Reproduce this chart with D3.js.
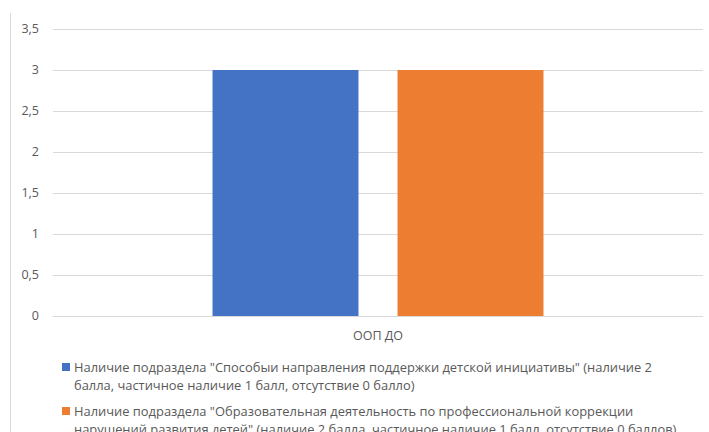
<!DOCTYPE html>
<html>
<head>
<meta charset="utf-8">
<script src="https://cdn.jsdelivr.net/npm/d3@7"></script>
<style>
  body { margin: 0; background: #fff; }
  text { font-family: "Open Sans", "Noto Sans", sans-serif; fill: #595959; }
</style>
</head>
<body>
<svg id="chart" width="709" height="432"></svg>
<script>
// data
var categories = ["ООП ДО"];
var seriesNames = [
  ["Наличие подраздела \"Способыи направления поддержки детской инициативы\" (наличие 2",
   "балла, частичное наличие 1 балл, отсутствие 0 балло)"],
  ["Наличие подраздела \"Образовательная деятельность по профессиональной коррекции",
   "нарушений развития детей\" (наличие 2 балла, частичное наличие 1 балл, отсутствие 0 баллов)"]
];
var seriesValues = [[3], [3]];
var seriesColors = ["#4472c4", "#ed7d31"];
var yTicks = [0, 0.5, 1, 1.5, 2, 2.5, 3, 3.5];

var svg = d3.select("#chart");

// left border of the chart frame
svg.append("line")
  .attr("x1", 10.5).attr("x2", 10.5)
  .attr("y1", 13).attr("y2", 432)
  .attr("stroke", "#d9d9d9").attr("stroke-width", 1);

var plotLeft = 53, plotRight = 703, plotTop = 29, plotBottom = 316;

var y = d3.scaleLinear().domain([0, 3.5]).range([plotBottom, plotTop]);
var x0 = d3.scaleBand().domain(categories).range([plotLeft, plotRight]).paddingInner(0).paddingOuter(0.482);
var x1 = d3.scaleBand().domain(d3.range(seriesValues.length)).range([0, x0.bandwidth()]).paddingInner(0.211);

// gridlines
svg.append("g").selectAll("line").data(yTicks).enter().append("line")
  .attr("x1", plotLeft).attr("x2", plotRight)
  .attr("y1", function(d) { return Math.round(y(d)) + 0.5; })
  .attr("y2", function(d) { return Math.round(y(d)) + 0.5; })
  .attr("stroke", "#d9d9d9").attr("stroke-width", 1);

// y labels
svg.append("g").selectAll("text").data(yTicks).enter().append("text")
  .attr("x", 39).attr("y", function(d) { return y(d); })
  .attr("dy", "0.35em")
  .attr("text-anchor", "end")
  .style("font-size", "12.5px")
  .text(function(d) { return String(d).replace(".", ","); });

// bars
var groups = svg.append("g").selectAll("g").data(categories).enter().append("g")
  .attr("transform", function(d) { return "translate(" + x0(d) + ",0)"; });

groups.selectAll("rect").data(function(d, ci) {
    return seriesValues.map(function(s, si) { return {si: si, v: s[ci]}; });
  }).enter().append("rect")
  .attr("x", function(d) { return x1(d.si); })
  .attr("width", x1.bandwidth())
  .attr("y", function(d) { return y(d.v); })
  .attr("height", function(d) { return y(0) - y(d.v); })
  .attr("fill", function(d) { return seriesColors[d.si]; });

// category labels
svg.append("g").selectAll("text").data(categories).enter().append("text")
  .attr("x", function(d) { return x0(d) + x0.bandwidth() / 2; })
  .attr("y", 340)
  .attr("text-anchor", "middle")
  .style("font-size", "12.5px")
  .text(function(d) { return d; });

// legend
var legend = svg.append("g").selectAll("g").data(seriesNames).enter().append("g")
  .attr("transform", function(d, i) { return "translate(62," + (362 + i * 44) + ")"; });

legend.append("rect")
  .attr("width", 8).attr("height", 8).attr("y", 1)
  .attr("fill", function(d, i) { return seriesColors[i]; });

legend.each(function(lines) {
  var g = d3.select(this);
  lines.forEach(function(t, k) {
    g.append("text")
      .attr("x", 12).attr("y", 10 + k * 18)
      .style("font-size", "12.9px")
      .text(t);
  });
});
</script>
</body>
</html>
